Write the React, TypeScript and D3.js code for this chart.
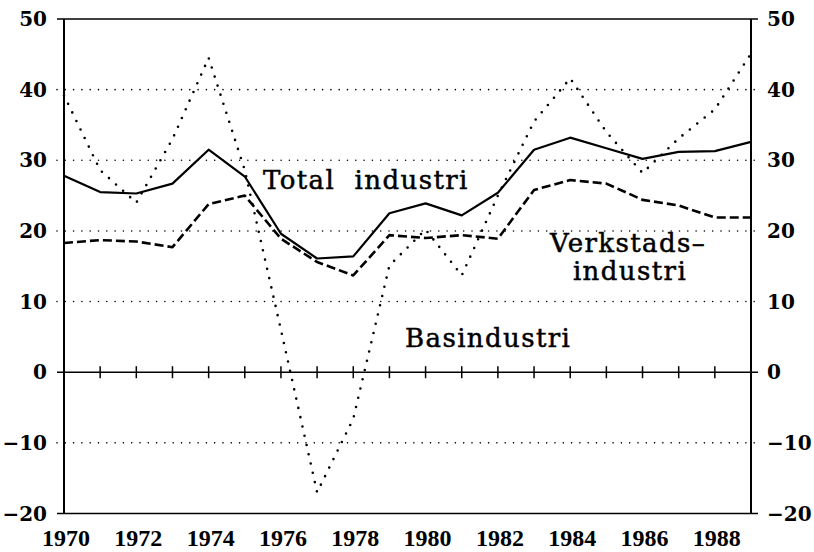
import React from "react";
import * as d3 from "d3";

const years = [1970,1971,1972,1973,1974,1975,1976,1977,1978,1979,1980,1981,1982,1983,1984,1985,1986,1987,1988,1989];
const totalIndustri = [27.8,25.5,25.3,26.7,31.5,27.7,19.6,16.1,16.4,22.5,23.9,22.2,25.4,31.5,33.2,31.7,30.2,31.2,31.3,32.6];
const verkstadsIndustri = [18.3,18.7,18.5,17.7,23.8,25.0,18.9,15.6,13.7,19.4,19.0,19.4,18.9,25.8,27.2,26.7,24.4,23.6,21.9,21.9];
const basIndustri = [39.2,28.6,24.0,33.0,44.5,28.6,6.0,-17.0,-6.6,15.1,20.2,13.7,25.0,35.5,41.6,34.0,28.2,33.1,37.2,45.1];
const yTicks = [50,40,30,20,10,0,-10,-20];
const xTickLabels = [1970,1972,1974,1976,1978,1980,1982,1984,1986,1988];

export default function App() {
  const left = 64, right = 751, top = 19, bottom = 513.5;
  const x = d3.scaleLinear().domain([1970, 1989]).range([left, right]);
  const y = d3.scaleLinear().domain([-20, 50]).range([bottom, top]);
  const line = d3.line<number>().x((_, i) => x(years[i])).y((d) => y(d));
  const serif = "'DejaVu Serif', serif";
  const ySerif = "'DejaVu Serif', serif";
  const xSerif = "'Liberation Serif', serif";
  return (
    <svg width={814} height={552} style={{ position: "absolute", left: 0, top: 0, background: "#fff" }}>
      <rect x={0} y={0} width={814} height={552} fill="#fff" />
      {/* gridlines */}
      {yTicks.map((t) => {
        const solid = t === 50 || t === 0 || t === -20;
        return (
          <line key={"g" + t} x1={left - 7} x2={right + 7} y1={y(t)} y2={y(t)}
            stroke="#000" strokeWidth={1.6}
            strokeDasharray={solid ? undefined : "0 8.3"} strokeLinecap={solid ? "butt" : "round"} />
        );
      })}
      {/* zero-line year ticks */}
      {years.map((yr) => (
        <line key={"t" + yr} x1={x(yr)} x2={x(yr)} y1={y(0) - 6} y2={y(0) + 6} stroke="#000" strokeWidth={1.5} />
      ))}
      {/* axes */}
      <line x1={left} x2={left} y1={top} y2={bottom} stroke="#000" strokeWidth={2} />
      <line x1={right} x2={right} y1={top} y2={bottom} stroke="#000" strokeWidth={2} />
      {/* y labels */}
      {yTicks.map((t) => (
        <text key={"l" + t} x={47} y={y(t)} dy="0.36em" textAnchor="end" fontFamily={ySerif} fontWeight="bold" fontSize={20}>
          {t < 0 ? "\u2212" + Math.abs(t) : t}
        </text>
      ))}
      {yTicks.map((t) => (
        <text key={"r" + t} x={767} y={y(t)} dy="0.36em" textAnchor="start" fontFamily={ySerif} fontWeight="bold" fontSize={20}>
          {t < 0 ? "\u2212" + Math.abs(t) : t}
        </text>
      ))}
      {/* x labels */}
      {xTickLabels.map((yr) => (
        <text key={"x" + yr} x={x(yr) + 2} y={546} textAnchor="middle" fontFamily={xSerif} fontWeight="bold" fontSize={24}>
          {yr}
        </text>
      ))}
      {/* series */}
      <path d={line(basIndustri) || ""} fill="none" stroke="#000" strokeWidth={2.6} strokeDasharray="0 9.5" strokeLinecap="round" strokeLinejoin="round" />
      <path d={line(verkstadsIndustri) || ""} fill="none" stroke="#000" strokeWidth={2.6} strokeDasharray="9 4" strokeLinejoin="round" />
      <path d={line(totalIndustri) || ""} fill="none" stroke="#000" strokeWidth={2.2} strokeLinejoin="round" />
      {/* series labels */}
      <g fontFamily={serif} fontSize={26} fill="#000" stroke="#000" strokeWidth={0.5} letterSpacing={1.4}>
        <text x={263} y={189}>Total{"\u00a0\u00a0"}industri</text>
        <text x={628} y={252} textAnchor="middle">Verkstads{"\u2013"}</text>
        <text x={630} y={280} textAnchor="middle">industri</text>
        <text x={405} y={347}>Basindustri</text>
      </g>
    </svg>
  );
}
